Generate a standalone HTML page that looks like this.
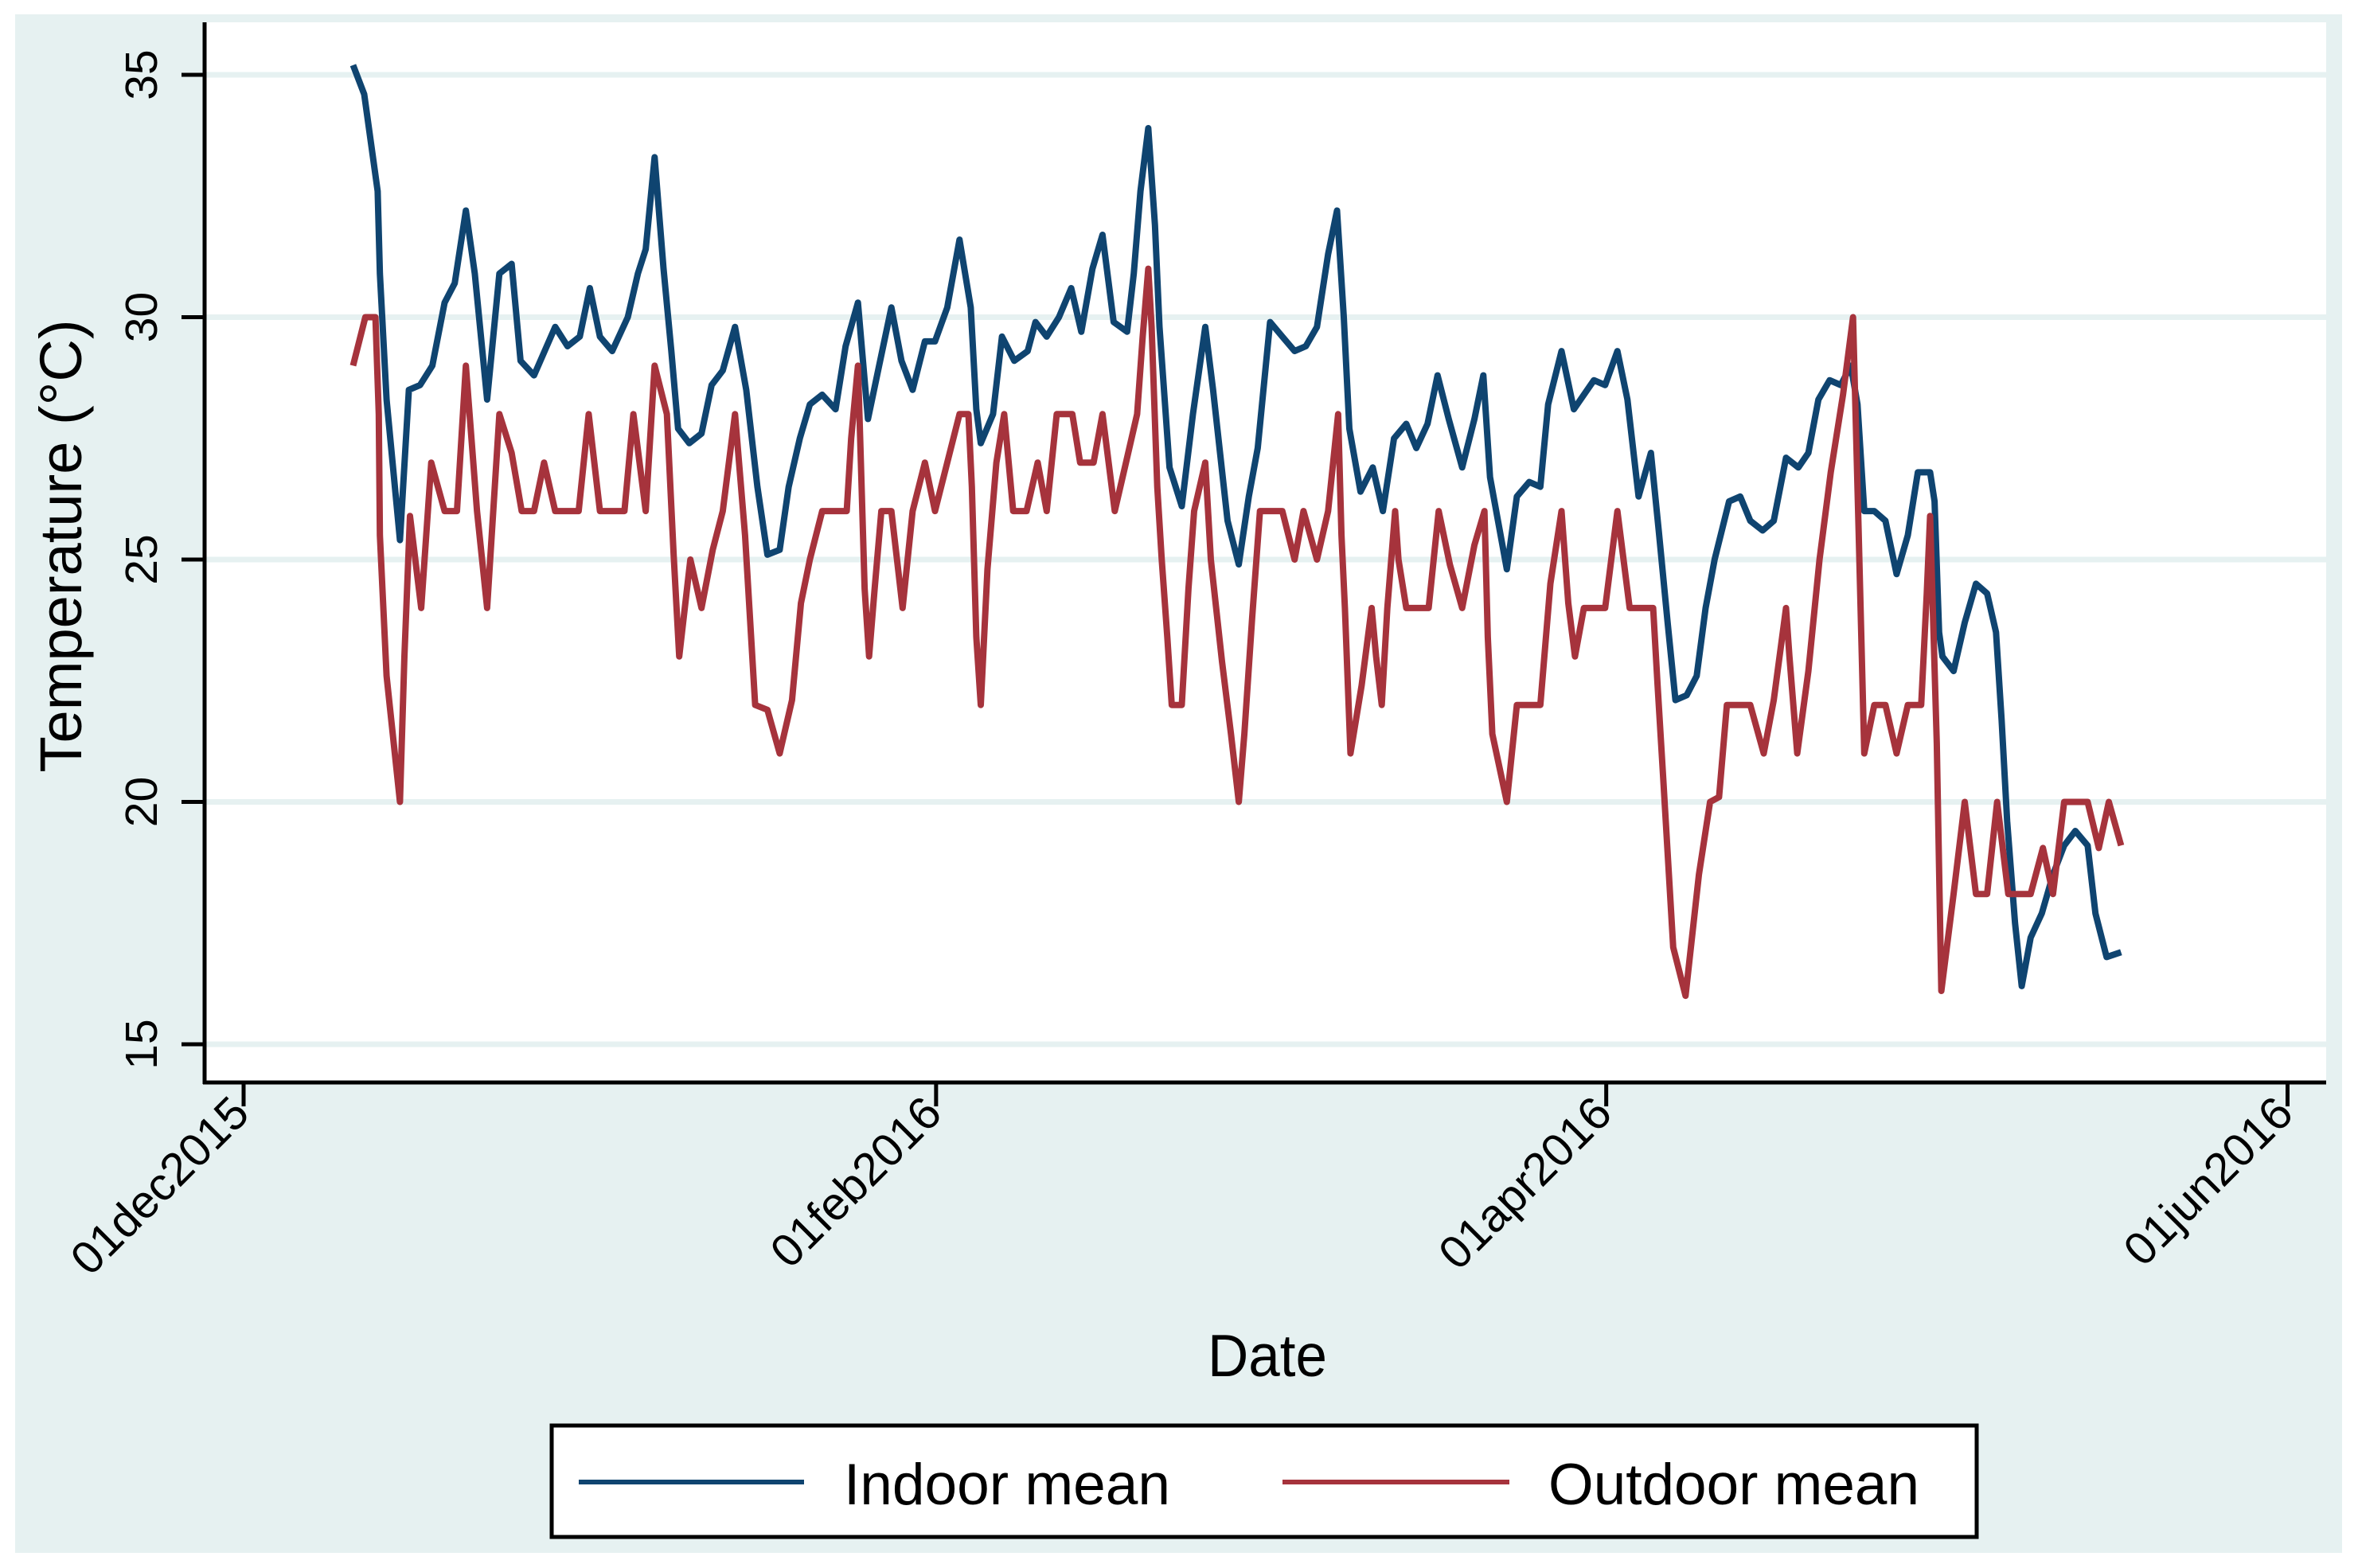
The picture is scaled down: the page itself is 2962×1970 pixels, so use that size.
<!DOCTYPE html>
<html><head><meta charset="utf-8"><title>Indoor and outdoor mean temperature</title>
<style>html,body{margin:0;padding:0;background:#fff;}svg{display:block;font-family:"Liberation Sans",Arial,sans-serif;}</style>
</head><body>
<svg id="chart" xmlns="http://www.w3.org/2000/svg" width="2962" height="1970" viewBox="0 0 2962 1970">
<rect x="19" y="18" width="2923" height="1933" fill="#e6f1f1"/>
<rect x="257" y="28" width="2665" height="1332" fill="#ffffff"/>
<g id="grid"></g>
<g id="series"></g>
<line x1="257" y1="28" x2="257" y2="1362" stroke="#000" stroke-width="5"/>
<line x1="255" y1="1360" x2="2922" y2="1360" stroke="#000" stroke-width="5"/>
<g id="yticks"></g>
<g id="xticks"></g>
<text transform="translate(102,686) rotate(-90)" text-anchor="middle" font-size="74" textLength="569" lengthAdjust="spacingAndGlyphs">Temperature (°C)</text>
<text x="1517" y="1729" font-size="75" textLength="150" lengthAdjust="spacingAndGlyphs">Date</text>
<g>
<rect x="693" y="1791" width="1790" height="140" fill="#fff" stroke="#000" stroke-width="5"/>
<line x1="727" y1="1862" x2="1010" y2="1862" stroke="#0f4470" stroke-width="6"/>
<text x="1060" y="1890" font-size="73" textLength="410" lengthAdjust="spacingAndGlyphs">Indoor mean</text>
<line x1="1611" y1="1862" x2="1896" y2="1862" stroke="#a6333c" stroke-width="6"/>
<text x="1945" y="1890" font-size="73" textLength="466" lengthAdjust="spacingAndGlyphs">Outdoor mean</text>
</g>
</svg>
<script>
// days since 01dec2015 and values (°C)
const indoorDays = [9.8,10.8,12.0,12.2,12.8,14.0,14.8,15.8,16.9,18.0,18.9,19.9,20.7,21.8,22.9,24.0,24.8,26.0,27.9,29.0,30.1,31.0,31.9,33.0,34.4,35.3,36.0,36.8,37.6,38.3,38.9,39.9,41.0,41.9,42.9,44.0,45.0,46.0,46.9,48.0,48.8,49.8,50.7,51.8,53.0,53.9,55.0,55.9,56.9,58.0,58.9,59.9,61.0,61.9,63.0,64.1,65.1,65.6,66.0,67.1,67.9,69.0,70.2,70.9,71.9,73.0,74.1,75.0,76.0,76.9,77.9,79.1,79.7,80.3,81.0,81.6,82.0,82.9,84.0,85.0,86.1,86.8,88.1,89.1,90.0,90.8,91.9,93.0,94.1,95.1,96.1,97.1,97.9,98.5,99.0,100.0,101.1,102.0,103.0,104.1,105.0,106.0,106.9,107.9,109.1,110.2,111.0,111.6,113.1,114.0,115.1,116.1,116.8,118.0,119.1,120.9,121.9,123.0,123.9,124.9,126.0,126.7,127.5,128.2,129.2,130.1,130.9,131.7,133.0,134.0,134.9,136.0,137.0,138.1,139.2,140.1,141.0,142.0,143.0,143.9,144.5,145.1,146.0,147.0,148.0,149.0,149.9,151.0,151.4,151.8,152.1,153.1,154.1,155.1,156.1,156.9,157.4,157.9,158.6,159.2,160.0,161.0,162.0,163.0,164.0,165.1,165.8,166.8,168.1];
const indoorVals = [35.2,34.6,32.6,30.9,28.3,25.4,28.5,28.6,29.0,30.3,30.7,32.2,30.9,28.3,30.9,31.1,29.1,28.8,29.8,29.4,29.6,30.6,29.6,29.3,30.0,30.9,31.4,33.3,31.0,29.3,27.7,27.4,27.6,28.6,28.9,29.8,28.5,26.5,25.1,25.2,26.5,27.5,28.2,28.4,28.1,29.4,30.3,27.9,29.0,30.2,29.1,28.5,29.5,29.5,30.2,31.6,30.2,28.1,27.4,28.0,29.6,29.1,29.3,29.9,29.6,30.0,30.6,29.7,31.0,31.7,29.9,29.7,30.9,32.6,33.9,31.9,29.8,26.9,26.1,28.0,29.8,28.5,25.8,24.9,26.3,27.3,29.9,29.6,29.3,29.4,29.8,31.3,32.2,30.0,27.7,26.4,26.9,26.0,27.5,27.8,27.3,27.8,28.8,27.9,26.9,27.9,28.8,26.7,24.8,26.3,26.6,26.5,28.2,29.3,28.1,28.7,28.6,29.3,28.3,26.3,27.2,25.6,23.7,22.1,22.2,22.6,24.0,25.0,26.2,26.3,25.8,25.6,25.8,27.1,26.9,27.2,28.3,28.7,28.6,29.0,28.2,26.0,26.0,25.8,24.7,25.5,26.8,26.8,26.2,23.5,23.0,22.7,23.7,24.5,24.3,23.5,21.7,19.6,17.5,16.2,17.2,17.7,18.5,19.1,19.4,19.1,17.7,16.8,16.9];
const outdoorDays = [9.8,10.9,11.8,12.1,12.2,12.8,14.0,14.4,14.9,15.9,16.8,18.0,19.1,19.9,20.9,21.8,22.9,24.0,24.9,26.0,26.9,27.9,30.0,30.9,31.9,34.1,34.9,36.0,36.8,37.9,38.5,39.0,40.0,41.0,42.0,42.9,44.0,44.9,45.8,46.9,48.0,49.1,49.9,50.7,51.8,54.0,54.4,55.0,55.2,55.6,56.0,56.5,57.1,58.0,59.0,59.9,61.0,61.9,63.0,64.1,64.9,65.2,65.6,66.0,66.6,67.4,68.1,68.9,70.1,71.1,71.9,72.8,74.2,74.9,76.1,76.9,78.0,79.0,80.0,80.5,81.0,81.3,81.8,82.2,82.7,83.1,84.0,84.6,85.1,86.1,86.6,87.6,88.4,89.1,89.6,90.3,91.0,93.0,94.1,94.9,96.1,97.1,98.0,98.3,98.6,99.1,100.1,101.0,101.4,101.9,102.4,103.1,103.4,104.1,106.1,107.0,108.0,109.1,110.2,111.1,111.4,111.8,113.1,114.0,116.1,117.0,118.0,118.6,119.2,120.0,121.9,123.0,124.1,126.2,126.6,127.1,128.0,129.1,130.3,131.3,132.1,132.8,134.9,136.1,137.0,138.1,138.4,139.1,140.1,141.1,142.1,143.2,144.1,144.6,145.1,146.0,147.0,148.0,149.0,150.2,150.7,151.0,151.6,152.0,153.1,154.1,155.1,156.1,157.0,158.0,160.0,161.1,162.0,163.0,165.1,166.1,167.0,168.1];
const outdoorVals = [29.0,30.0,30.0,28.0,25.5,22.6,20.0,23.0,25.9,24.0,27.0,26.0,26.0,29.0,26.0,24.0,28.0,27.2,26.0,26.0,27.0,26.0,26.0,28.0,26.0,26.0,28.0,26.0,29.0,28.0,25.1,23.0,25.0,24.0,25.2,26.0,28.0,25.5,22.0,21.9,21.0,22.1,24.1,25.0,26.0,26.0,27.5,29.0,27.5,24.4,23.0,24.4,26.0,26.0,24.0,26.0,27.0,26.0,27.0,28.0,28.0,26.5,23.4,22.0,24.8,27.0,28.0,26.0,26.0,27.0,26.0,28.0,28.0,27.0,27.0,28.0,26.0,27.0,28.0,29.6,31.0,29.8,26.5,25.0,23.4,22.0,22.0,24.4,26.0,27.0,25.0,22.9,21.4,20.0,21.4,23.8,26.0,26.0,25.0,26.0,25.0,26.0,28.0,25.5,24.0,21.0,22.4,24.0,23.0,22.0,24.0,26.0,25.0,24.0,24.0,26.0,24.9,24.0,25.3,26.0,23.4,21.4,20.0,22.0,22.0,24.5,26.0,24.1,23.0,24.0,24.0,26.0,24.0,24.0,22.4,20.5,17.0,16.0,18.5,20.0,20.1,22.0,22.0,21.0,22.1,24.0,23.0,21.0,22.7,25.0,26.8,28.4,30.0,25.6,21.0,22.0,22.0,21.0,22.0,22.0,24.3,25.9,21.2,16.1,18.1,20.0,18.1,18.1,20.0,18.1,18.1,19.05,18.1,20.0,20.0,19.05,20.0,19.1];
const yTickVals = [15,20,25,30,35];
const xTickDays = [0,62,122,183];
const xTickLabels = ["01dec2015","01feb2016","01apr2016","01jun2016"];

const NS = "http://www.w3.org/2000/svg";
const X0 = 306, PXDAY = 14.03;
function xs(d){ return X0 + d*PXDAY; }
function ys(v){ return 94 + (35 - v)*60.9; }
function mk(tag, attrs, parent){
  const e = document.createElementNS(NS, tag);
  for (const k in attrs) e.setAttribute(k, attrs[k]);
  parent.appendChild(e);
  return e;
}
const grid = document.getElementById('grid');
const yt = document.getElementById('yticks');
yTickVals.forEach(v => {
  const g = mk('line', {x1:259, x2:2922, y1:ys(v), y2:ys(v), stroke:'#e6f1f1', 'stroke-width':7}, grid);
  
  
  const t = mk('line', {x1:228, x2:257, y1:ys(v), y2:ys(v), stroke:'#000', 'stroke-width':5}, yt);
  
  
  const lb = mk('text', {transform:'translate(197,' + ys(v) + ') rotate(-90)', 'text-anchor':'middle', 'font-size':57}, yt);
  lb.textContent = String(v);
  
  
});
const xt = document.getElementById('xticks');
xTickDays.forEach((d, i) => {
  const x = xs(d);
  const t = mk('line', {x1:x, x2:x, y1:1360, y2:1390, stroke:'#000', 'stroke-width':5}, xt);
  
  
  const lb = mk('text', {transform:'translate(' + (x + 10) + ',1402) rotate(-45)', 'text-anchor':'end', 'font-size':58}, xt);
  lb.textContent = xTickLabels[i];
  
  
});
const series = document.getElementById('series');
function drawLine(days, vals, color, name){
  const pts = days.map((d, i) => xs(d).toFixed(1) + ',' + ys(vals[i]).toFixed(1)).join(' ');
  const p = mk('polyline', {points:pts, fill:'none', stroke:color, 'stroke-width':8, 'stroke-linejoin':'round'}, series);
  
  
}
drawLine(indoorDays, indoorVals, '#0f4470', 'indoor-mean-line');
drawLine(outdoorDays, outdoorVals, '#a6333c', 'outdoor-mean-line');
</script>
</body></html>
